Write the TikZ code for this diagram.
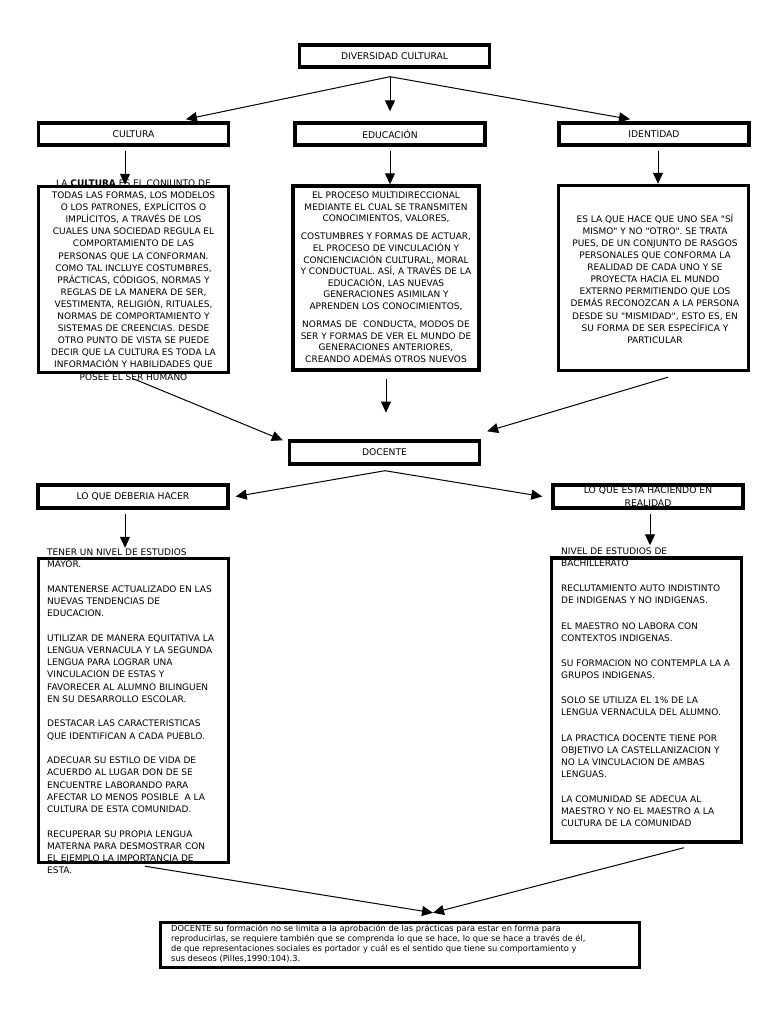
\documentclass[tikz,border=0pt]{standalone}
\usepackage{fontspec}
\setmainfont{DejaVu Sans}
\usetikzlibrary{arrows.meta}

\tikzset{
  etiq/.style={draw, line width=3.4pt, minimum width=190pt, minimum height=22pt, inner sep=0pt, align=center, font=\fontsize{9.2}{13.5}\selectfont},
  caja/.style={draw, line width=3.4pt, inner sep=0pt},
  centro/.style={inner sep=0pt, align=center, font=\fontsize{9}{12.1}\selectfont},
  izq/.style={inner sep=0pt, align=left, font=\fontsize{9}{12.2}\selectfont},
  flecha/.style={->, >={Triangle[length=11pt,width=10pt]}, line width=1pt},
}

\begin{document}
\begin{tikzpicture}[x=1pt, y=-1pt]
\useasboundingbox[fill=white] (0,0) rectangle (768,1024);

% titulos
\node[etiq] (div)  at (394.5,56) {DIVERSIDAD CULTURAL};
\node[etiq] (cult) at (133.5,134) {CULTURA};
\node[etiq] (educ) at (390,134) {EDUCACIÓN};
\node[etiq] (iden) at (654,134) {IDENTIDAD};

\draw[flecha] ([shift={(-4.5,8)}]div.south) -- ([shift={(52.5,-2)}]cult.north);
\draw[flecha] ([shift={(-4.5,8)}]div.south) -- ([shift={(0,-10)}]educ.north);
\draw[flecha] ([shift={(-4.5,8)}]div.south) -- ([shift={(-24,-2)}]iden.north);

% cultura
\node[centro] (culttxt) at (133.5,280) {LA \textbf{CULTURA} ES EL CONJUNTO DE\\
TODAS LAS FORMAS, LOS MODELOS\\
O LOS PATRONES, EXPLÍCITOS O\\
IMPLÍCITOS, A TRAVÉS DE LOS\\
CUALES UNA SOCIEDAD REGULA EL\\
COMPORTAMIENTO DE LAS\\
PERSONAS QUE LA CONFORMAN.\\
COMO TAL INCLUYE COSTUMBRES,\\
PRÁCTICAS, CÓDIGOS, NORMAS Y\\
REGLAS DE LA MANERA DE SER,\\
VESTIMENTA, RELIGIÓN, RITUALES,\\
NORMAS DE COMPORTAMIENTO Y\\
SISTEMAS DE CREENCIAS. DESDE\\
OTRO PUNTO DE VISTA SE PUEDE\\
DECIR QUE LA CULTURA ES TODA LA\\
INFORMACIÓN Y HABILIDADES QUE\\
POSEE EL SER HUMANO};
\node[caja, minimum width=190pt, minimum height=186pt] (cultbox) at (133.5,279.5) {};

% educacion
\node[centro, anchor=north, font=\fontsize{9}{11.6}\selectfont] (eductxt) at (386,191.7) {EL PROCESO MULTIDIRECCIONAL\\
MEDIANTE EL CUAL SE TRANSMITEN\\
CONOCIMIENTOS, VALORES,\\[6.6pt]
COSTUMBRES Y FORMAS DE ACTUAR,\\
EL PROCESO DE VINCULACIÓN Y\\
CONCIENCIACIÓN CULTURAL, MORAL\\
Y CONDUCTUAL. ASÍ, A TRAVÉS DE LA\\
EDUCACIÓN, LAS NUEVAS\\
GENERACIONES ASIMILAN Y\\
APRENDEN LOS CONOCIMIENTOS,\\[6.6pt]
NORMAS DE~ CONDUCTA, MODOS DE\\
SER Y FORMAS DE VER EL MUNDO DE\\
GENERACIONES ANTERIORES,\\
CREANDO ADEMÁS OTROS NUEVOS};
\node[caja, minimum width=186pt, minimum height=184pt] (educbox) at (386,278) {};

% identidad
\node[centro] (identxt) at (655,278.6) {ES LA QUE HACE QUE UNO SEA \textquotedbl SÍ\\
MISMO\textquotedbl{} Y NO \textquotedbl OTRO\textquotedbl. SE TRATA\\
PUES, DE UN CONJUNTO DE RASGOS\\
PERSONALES QUE CONFORMA LA\\
REALIDAD DE CADA UNO Y SE\\
PROYECTA HACIA EL MUNDO\\
EXTERNO PERMITIENDO QUE LOS\\
DEMÁS RECONOZCAN A LA PERSONA\\
DESDE SU \textquotedbl MISMIDAD\textquotedbl, ESTO ES, EN\\
SU FORMA DE SER ESPECÍFICA Y\\
PARTICULAR};
\node[caja, minimum width=190pt, minimum height=185pt] (idenbox) at (653.5,278) {};

\draw[flecha] ([shift={(-8.5,4)}]cult.south) -- ([shift={(-8.5,0)}]cultbox.north);
\draw[flecha] ([yshift=-4pt]educ.south) -- (educ.south |- educbox.north);
\draw[flecha] ([shift={(4,4)}]iden.south) -- ([shift={(4.5,0)}]idenbox.north);

% docente
\node[etiq, minimum height=23pt] (doc) at (384.5,452.5) {DOCENTE};

\draw[flecha] ([shift={(-1.5,4)}]cultbox.south) -- ([shift={(-5,1)}]doc.north west);
\draw[flecha] ([yshift=-7pt]educbox.south) -- ++(0,34);
\draw[flecha] ([shift={(14.5,5)}]idenbox.south) -- ([shift={(6,-8)}]doc.north east);

\node[etiq, minimum height=23pt] (debe) at (133,496.5) {LO QUE DEBERIA HACER};
\node[etiq, minimum height=23pt] (esta) at (648,496.5) {LO QUE ESTA HACIENDO EN\\REALIDAD};

\draw[flecha] ([shift={(0.5,5)}]doc.south) -- ([xshift=6pt]debe.east);
\draw[flecha] ([shift={(0.5,5)}]doc.south) -- ([xshift=-9pt]esta.west);

% lo que deberia hacer
\node[izq, anchor=north west] (debetxt) at (47,548.7) {TENER UN NIVEL DE ESTUDIOS\\
MAYOR.\\[12.4pt]
MANTENERSE ACTUALIZADO EN LAS\\
NUEVAS TENDENCIAS DE\\
EDUCACION.\\[12.4pt]
UTILIZAR DE MANERA EQUITATIVA LA\\
LENGUA VERNACULA Y LA SEGUNDA\\
LENGUA PARA LOGRAR UNA\\
VINCULACION DE ESTAS Y\\
FAVORECER AL ALUMNO BILINGUEN\\
EN SU DESARROLLO ESCOLAR.\\[12.4pt]
DESTACAR LAS CARACTERISTICAS\\
QUE IDENTIFICAN A CADA PUEBLO.\\[12.4pt]
ADECUAR SU ESTILO DE VIDA DE\\
ACUERDO AL LUGAR DON DE SE\\
ENCUENTRE LABORANDO PARA\\
AFECTAR LO MENOS POSIBLE~ A LA\\
CULTURA DE ESTA COMUNIDAD.\\[12.4pt]
RECUPERAR SU PROPIA LENGUA\\
MATERNA PARA DESMOSTRAR CON\\
EL EJEMPLO LA IMPORTANCIA DE\\
ESTA.};
\node[caja, minimum width=190pt, minimum height=304pt] (debebox) at (133.5,710.5) {};

% lo que esta haciendo
\node[izq, anchor=north west, font=\fontsize{9}{12}\selectfont] (estatxt) at (561,547.7) {NIVEL DE ESTUDIOS DE\\
BACHILLERATO\\[13.3pt]
RECLUTAMIENTO AUTO INDISTINTO\\
DE INDIGENAS Y NO INDIGENAS.\\[13.3pt]
EL MAESTRO NO LABORA CON\\
CONTEXTOS INDIGENAS.\\[13.3pt]
SU FORMACION NO CONTEMPLA LA A\\
GRUPOS INDIGENAS.\\[13.3pt]
SOLO SE UTILIZA EL 1\% DE LA\\
LENGUA VERNACULA DEL ALUMNO.\\[13.3pt]
LA PRACTICA DOCENTE TIENE POR\\
OBJETIVO LA CASTELLANIZACION Y\\
NO LA VINCULACION DE AMBAS\\
LENGUAS.\\[13.3pt]
LA COMUNIDAD SE ADECUA AL\\
MAESTRO Y NO EL MAESTRO A LA\\
CULTURA DE LA COMUNIDAD};
\node[caja, minimum width=190pt, minimum height=284pt] (estabox) at (646.5,700) {};

\draw[flecha] ([shift={(-8,4)}]debe.south) -- ([shift={(-8.5,-9)}]debebox.north);
\draw[flecha] ([shift={(2,4)}]esta.south) -- ([shift={(3.5,-11)}]estabox.north);

% cita final
\node[caja, minimum width=479pt, minimum height=45pt] (final) at (400,945) {};
\node[izq, anchor=north west, font=\fontsize{8.3}{10}\selectfont] (finaltxt) at (171,924.3) {DOCENTE su formación no se limita a la aprobación de las prácticas para estar en forma para\\
reproducirlas, se requiere también que se comprenda lo que se hace, lo que se hace a través de él,\\
de que representaciones sociales es portador y cuál es el sentido que tiene su comportamiento y\\
sus deseos (Pilles,1990:104).3.};

\draw[flecha] ([shift={(11.5,2)}]debebox.south) -- ([shift={(33,-8)}]final.north);
\draw[flecha] ([shift={(37.5,4)}]estabox.south) -- ([shift={(33,-8)}]final.north);
\end{tikzpicture}
\end{document}
